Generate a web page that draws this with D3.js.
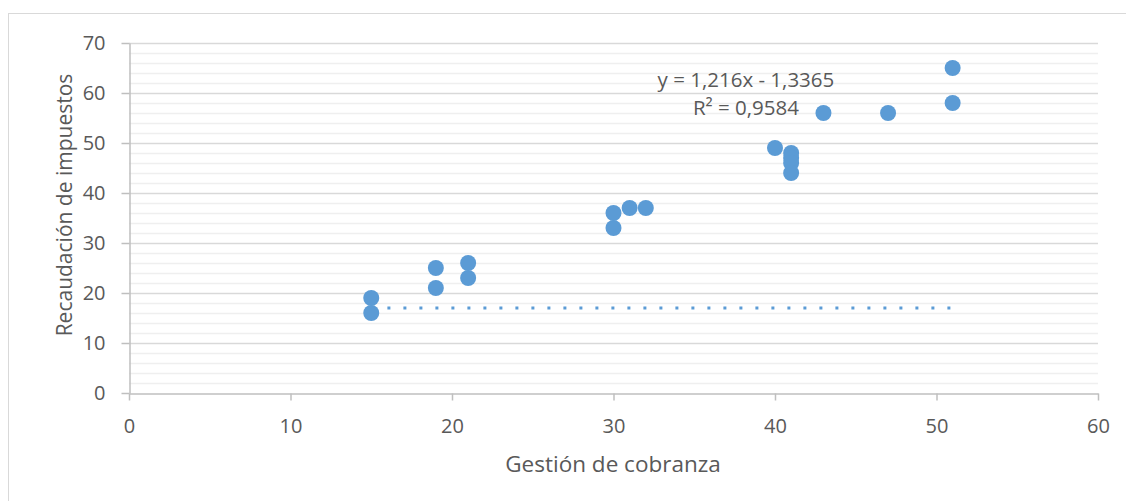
<!DOCTYPE html>
<html>
<head>
<meta charset="utf-8">
<script src="https://cdn.jsdelivr.net/npm/d3@7"></script>
<style>
  body { margin: 0; background: #fff; }
  text { font-family: "Open Sans", sans-serif; fill: #595959; }
</style>
</head>
<body>
<div id="chart"></div>
<script>
// Gestión de cobranza (x) vs Recaudación de impuestos (y)
const gestion = [15, 15, 19, 19, 21, 21, 30, 30, 31, 32, 40, 41, 41, 41, 41, 43, 47, 51, 51];
const recaudacion = [19, 16, 25, 21, 26, 23, 36, 33, 37, 37, 49, 48, 47, 46, 44, 56, 56, 65, 58];
// trend line as drawn in the reference
const trendX = [16, 51];
const trendY = [17, 17];
const xTicks = [0, 10, 20, 30, 40, 50, 60];
const yTicks = [0, 10, 20, 30, 40, 50, 60, 70];
const equation = ["y = 1,216x - 1,3365", "R² = 0,9584"];

const W = 1126, H = 501;
const margin = {top: 43, right: 28, bottom: 108, left: 129};
const width = W - margin.left - margin.right;
const height = H - margin.top - margin.bottom;
const blue = "#5B9BD5";

const svg = d3.select("#chart").append("svg")
    .attr("width", W)
    .attr("height", H);

// chart area border
svg.append("rect")
    .attr("x", 8.5).attr("y", 13.5)
    .attr("width", 1130).attr("height", 520)
    .attr("fill", "none")
    .attr("stroke", "#d9d9d9");

const g = svg.append("g")
    .attr("transform", "translate(" + margin.left + "," + margin.top + ")");

const xScale = d3.scaleLinear().domain([0, 60]).range([0, width]);
const yScale = d3.scaleLinear().domain([0, 70]).range([height, 0]);

// minor gridlines every 2
g.append("g").selectAll("line")
    .data(d3.range(2, 70, 2).filter(v => v % 10 !== 0))
    .join("line")
    .attr("x1", 0).attr("x2", width)
    .attr("y1", d => Math.round(yScale(d)) + 0.5)
    .attr("y2", d => Math.round(yScale(d)) + 0.5)
    .attr("stroke", "#efefef")
    .attr("stroke-width", 1.3);

// major gridlines
g.append("g").selectAll("line")
    .data(yTicks.slice(1))
    .join("line")
    .attr("x1", 0).attr("x2", width)
    .attr("y1", d => Math.round(yScale(d)) + 0.5)
    .attr("y2", d => Math.round(yScale(d)) + 0.5)
    .attr("stroke", "#d9d9d9")
    .attr("stroke-width", 1.3);

// x axis
const xAxisG = g.append("g")
    .attr("transform", "translate(0," + (Math.round(height) + 0.5) + ")")
    .call(d3.axisBottom(xScale).tickValues(xTicks).tickSize(7).tickSizeOuter(0).tickPadding(18));

// y axis
const yAxisG = g.append("g")
    .attr("transform", "translate(0.5,0)")
    .call(d3.axisLeft(yScale).tickValues(yTicks).tickSize(8).tickSizeOuter(0).tickPadding(16));

[xAxisG, yAxisG].forEach(ax => {
    ax.attr("font-family", null).attr("font-size", null);
    ax.select(".domain").attr("stroke", "#bfbfbf").attr("stroke-width", 1.5);
    ax.selectAll(".tick line").attr("stroke", "#bfbfbf").attr("stroke-width", 1.5);
    ax.selectAll(".tick text")
        .style("font-size", "20px")
        .attr("fill", "#595959");
});

// trend line
const trendData = trendX.map((x, i) => [x, trendY[i]]);
g.append("path")
    .datum(trendData)
    .attr("fill", "none")
    .attr("stroke", blue)
    .attr("stroke-width", 3)
    .attr("stroke-dasharray", "3,13")
    .attr("d", d3.line().x(d => xScale(d[0])).y(d => yScale(d[1])));

// points
g.append("g").selectAll("circle")
    .data(gestion.map((x, i) => ({x: x, y: recaudacion[i]})))
    .join("circle")
    .attr("cx", d => xScale(d.x))
    .attr("cy", d => yScale(d.y))
    .attr("r", 8)
    .attr("fill", blue);

// equation label
g.append("text")
    .attr("x", xScale(38.2))
    .attr("y", yScale(61.2))
    .attr("text-anchor", "middle")
    .style("font-size", "20.5px")
    .selectAll("tspan")
    .data(equation)
    .join("tspan")
    .attr("x", xScale(38.2))
    .attr("dy", (d, i) => i === 0 ? 0 : 28)
    .text(d => d);

// axis titles
svg.append("text")
    .attr("x", 613)
    .attr("y", 472)
    .attr("text-anchor", "middle")
    .style("font-size", "22.5px")
    .text("Gestión de cobranza");

svg.append("text")
    .attr("transform", "translate(72,205) rotate(-90)")
    .attr("text-anchor", "middle")
    .style("font-size", "21px")
    .text("Recaudación de impuestos");
</script>
</body>
</html>
